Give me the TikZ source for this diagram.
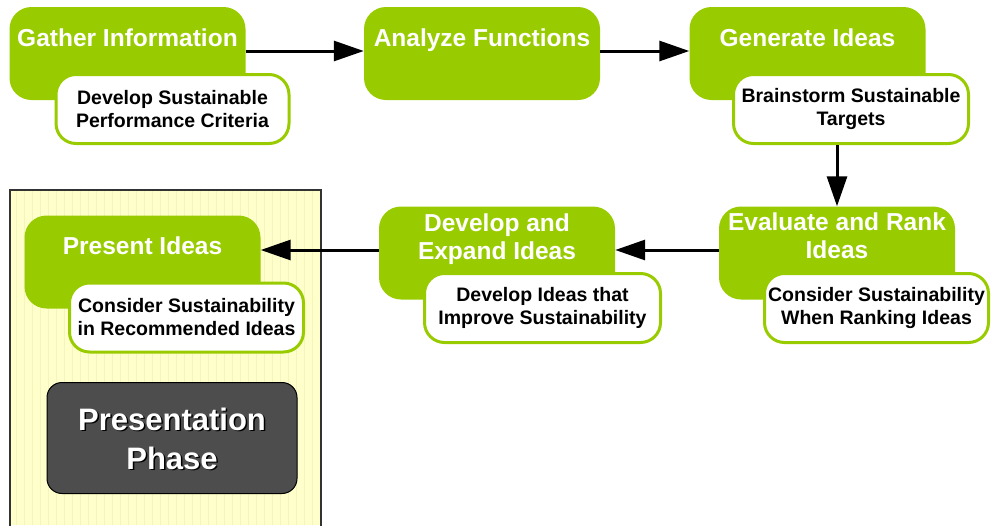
\documentclass[tikz,border=0pt]{standalone}
\usepackage{fontspec}
\setmainfont{Liberation Sans}
\usetikzlibrary{arrows.meta}
\definecolor{leaf}{HTML}{99CC00}
\definecolor{paper}{HTML}{FFFFCC}
\definecolor{paperline}{HTML}{F4F4BE}
\definecolor{phase}{HTML}{4D4D4D}

\begin{document}
\begin{tikzpicture}[x=1pt, y=-1pt, every node/.style={font=\bfseries},
    stepbox/.style={fill=leaf, draw=none, rounded corners=22pt, minimum width=236pt, minimum height=93pt, inner sep=0pt},
    steptitle/.style={text=white, align=center, font=\fontsize{24.5}{28}\selectfont\bfseries, inner sep=0pt},
    notebox/.style={fill=white, draw=leaf, line width=3pt, rounded corners=20pt, minimum width=233pt, minimum height=69pt, inner sep=0pt, align=center, font=\fontsize{19.5}{23}\selectfont\bfseries},
    flow/.style={line width=3pt, -{Triangle[length=30pt, width=20pt]}}]
        \useasboundingbox (0,0) rectangle (992,525);

        % Presentation panel
        \begin{scope}
            \clip (10,190) rectangle (321,525);
            \fill[paper] (10,190) rectangle (321,525);
            \draw[paperline, line width=0.8pt, step=8] (10,190) grid (321,525);
        \end{scope}
        \draw[black!80, line width=1.2pt] (10,527) -- (10,190) -- (321,190) -- (321,527);

        % Top row
        \node[stepbox] (gather) at (127.5,53.5) {};
        \node[steptitle, anchor=base] (gatherT) at (127.5,46) {Gather Information};
        \node[notebox] (gatherN) at (172.5,109) {Develop Sustainable\\Performance Criteria};

        \node[stepbox] (analyze) at (482,53.5) {};
        \node[steptitle, anchor=base] (analyzeT) at (482,46) {Analyze Functions};

        \node[stepbox] (generate) at (807.5,53.5) {};
        \node[steptitle, anchor=base] (generateT) at (807.5,46) {Generate Ideas};
        \node[notebox, minimum width=235pt] (generateN) at (851,109) {Brainstorm Sustainable\\Targets};

        % Bottom row
        \node[stepbox] (evaluate) at (837,253) {};
        \node[steptitle] (evaluateT) at (837,235.5) {Evaluate and Rank\\Ideas};
        \node[notebox, minimum width=224pt] (evaluateN) at (876.5,308) {Consider Sustainability\\When Ranking Ideas};

        \node[stepbox] (develop) at (497,253) {};
        \node[steptitle] (developT) at (497,239) {Develop and\\Expand Ideas};
        \node[notebox, minimum width=236pt] (developN) at (542.5,308) {Develop Ideas that\\Improve Sustainability};

        \node[stepbox] (present) at (142.5,262) {};
        \node[steptitle, anchor=base] (presentT) at (142.5,254) {Present Ideas};
        \node[notebox, minimum width=234pt] (presentN) at (186.5,317.5) {Consider Sustainability\\in Recommended Ideas};

        % Phase label (with drop shadow)
        \node[fill=phase, draw=black, line width=1pt, rounded corners=15pt, minimum width=250pt, minimum height=111pt] (phase) at (172,438) {};
        \node[text=black, align=center, font=\fontsize{31}{39}\selectfont\bfseries] (phaseS) at (173.5,440) {Presentation\\Phase};
        \node[text=white, align=center, font=\fontsize{31}{39}\selectfont\bfseries] (phaseT) at (172,438.5) {Presentation\\Phase};

        % Arrows
        \draw[flow] (gather.east |- 0,51) -- (analyze.west |- 0,51);
        \draw[flow] (analyze.east |- 0,51) -- (generate.west |- 0,51);
        \draw[flow] (evaluate.north |- generateN.south) -- (evaluate.north);
        \draw[flow] (evaluate.west |- 0,250) -- (develop.east |- 0,250);
        \draw[flow] (develop.west |- 0,250) -- (present.east |- 0,250);
\end{tikzpicture}
\end{document}
